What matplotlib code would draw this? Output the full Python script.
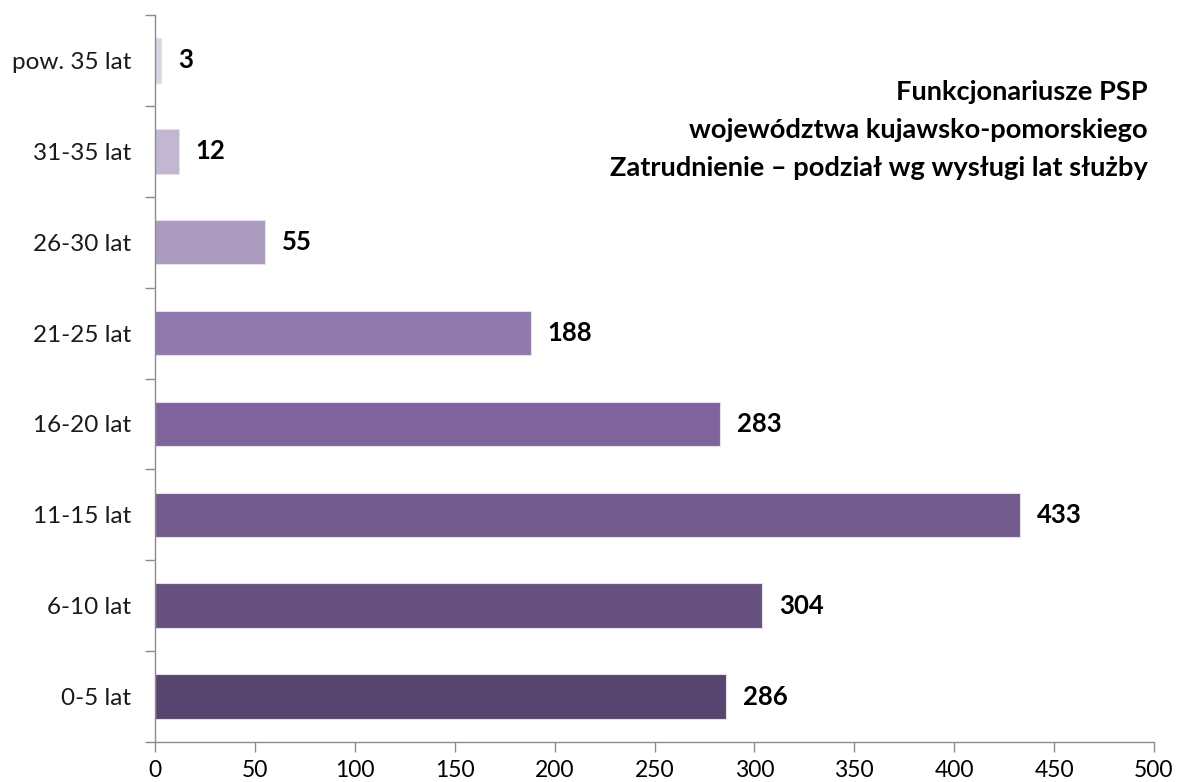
import matplotlib
matplotlib.use("Agg")
import matplotlib.pyplot as plt
import numpy as np
from matplotlib.ticker import FixedLocator, NullFormatter

categories = ["0-5 lat", "6-10 lat", "11-15 lat", "16-20 lat", "21-25 lat",
              "26-30 lat", "31-35 lat", "pow. 35 lat"]
values = [286, 304, 433, 283, 188, 55, 12, 3]
colors = ["#574570", "#67517f", "#735b8e", "#7f649c", "#8f78ab",
          "#aa9bbf", "#c2b6d2", "#dcd4e4"]
xticks = [0, 50, 100, 150, 200, 250, 300, 350, 400, 450, 500]
title_lines = ["Funkcjonariusze PSP",
               "województwa kujawsko-pomorskiego",
               "Zatrudnienie – podział wg wysługi lat służby"]

plt.rcParams['font.family'] = ['Lato', 'DejaVu Sans']

fig = plt.figure(figsize=(11.78, 7.82), dpi=100)
ax = fig.add_axes([155/1178, 1-742/782, (1154-155)/1178, (742-15)/782])

y = np.arange(len(categories))
ax.barh(y, values, height=0.49, color=colors, edgecolor="#e6e0ec", linewidth=0.8)

for yi, v in zip(y, values):
    ax.annotate(str(v), (v, yi), xytext=(12, 0), textcoords="offset points",
                ha="left", va="center", fontsize=18.5, fontweight="bold", color="#000000")

ax.set_xlim(0, 500)
ax.set_ylim(-0.5, len(categories) - 0.5)
ax.set_xticks(xticks)
ax.set_xticklabels([str(t) for t in xticks], fontsize=16.5, color="#000000")
ax.set_yticks(y)
ax.set_yticklabels(categories, fontsize=17.5, color="#1a1a1a")
ax.tick_params(axis="y", which="major", length=0, pad=17)
ax.yaxis.set_minor_locator(FixedLocator(np.arange(-0.5, len(categories), 1.0)))
ax.yaxis.set_minor_formatter(NullFormatter())
ax.tick_params(axis="y", which="minor", length=7, color="#8c8c8c", width=1)
ax.tick_params(axis="x", which="major", length=7, color="#8c8c8c", width=1, pad=6)

for s in ["top", "right"]:
    ax.spines[s].set_visible(False)
for s in ["left", "bottom"]:
    ax.spines[s].set_color("#8c8c8c")
    ax.spines[s].set_linewidth(1)

ys = [92, 130, 168]
for line, yy in zip(title_lines, ys):
    fig.text(1148/1178, 1 - yy/782, line, ha="right", va="center",
             fontsize=19.6, fontweight="bold", color="#000000")

fig.savefig("out.png", dpi=100)
